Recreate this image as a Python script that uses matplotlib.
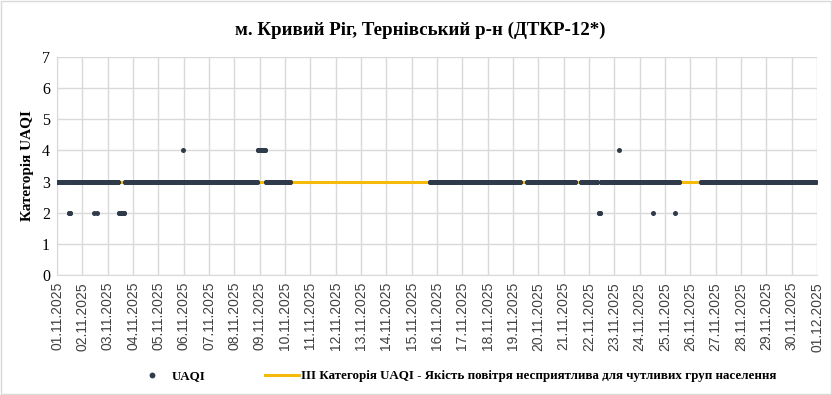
import numpy as np
import pandas as pd
import matplotlib
matplotlib.use('Agg')
import matplotlib.pyplot as plt
from matplotlib.lines import Line2D
from matplotlib.patches import Rectangle

# hourly UAQI category, 01.11.2025 00:00 .. 30.11.2025 23:00
start = '2025-11-01 00:00'
n_hours = 720
base_value = 3
hours_cat2 = [11, 12, 35, 38, 59, 60, 61, 62, 63, 513, 514, 565, 585]
hours_cat4 = [119, 190, 191, 192, 193, 194, 195, 196, 197, 532]
missing_runs = [(222, 352), (440, 444), (492, 495), (590, 609)]

ref_level = 3
date_labels = ['%02d.11.2025' % d for d in range(1, 31)] + ['01.12.2025']

times = pd.date_range(start, periods=n_hours, freq='h')
uaqi = np.full(n_hours, float(base_value))
uaqi[hours_cat2] = 2
uaqi[hours_cat4] = 4
for a, b in missing_runs:
    uaqi[a:b + 1] = np.nan

serif = 'Liberation Serif'
dot_color = '#2F3A4A'
gold = '#F5BA0A'

fig = plt.figure(figsize=(8.32, 3.95), dpi=100)
ax = fig.add_axes([57 / 832, 1 - 275 / 395, 760 / 832, 218 / 395])

ax.plot([times[0], pd.Timestamp('2025-12-01')], [ref_level, ref_level],
        color=gold, lw=2.2, zorder=2)
# dense hourly dots merge into a band, so draw each category as round-capped runs
for cat in (2, 3, 4):
    y = np.where(uaqi == cat, uaqi, np.nan)
    ax.plot(times, y, '-o', color=dot_color, lw=3.6, ms=3.6, mew=0,
            solid_capstyle='round', zorder=3)

ax.set_ylim(0, 7)
ax.set_yticks(range(0, 8))
ax.set_xlim(pd.Timestamp('2025-11-01'), pd.Timestamp('2025-12-01'))
ticks = pd.date_range('2025-11-01', '2025-12-01', freq='D')
ax.set_xticks(ticks)
ax.set_xticklabels(date_labels, rotation=90, fontsize=10, family='Liberation Sans',
                   color='#404040')
for lb in ax.get_yticklabels():
    lb.set_family(serif)
    lb.set_fontsize(11.5)
ax.tick_params(length=0, pad=5)
ax.grid(True, color='#D9D9D9', lw=1)
ax.set_axisbelow(True)
for s in ['top', 'right']:
    ax.spines[s].set_visible(False)
for s in ['left', 'bottom']:
    ax.spines[s].set_color('#D9D9D9')

ax.set_ylabel('Категорія UAQI', family=serif, fontsize=11, fontweight='bold', labelpad=6)
fig.text(0.505, 1 - 30 / 395, 'м. Кривий Ріг, Тернівський р-н (ДТКР-12*)',
         ha='center', va='center', family=serif, fontsize=13.6, fontweight='bold')

handles = [Line2D([], [], ls='none', marker='o', color=dot_color, ms=4.2, mew=0),
           Line2D([], [], color=gold, lw=2.2)]
labels = ['UAQI', 'ІІІ Категорія UAQI - Якість повітря несприятлива для чутливих груп населення']
fig.legend(handles, labels, loc='center', bbox_to_anchor=(0.548, 1 - 376 / 395), ncol=2,
           frameon=False, prop={'family': serif, 'size': 9.4, 'weight': 'bold'},
           handlelength=2.6, columnspacing=4.6, handletextpad=0.15)

fig.patches.append(Rectangle((0.001, 0.002), 0.998, 0.996, transform=fig.transFigure,
                             fill=False, ec='#D9D9D9', lw=1))

fig.savefig('out.png', dpi=100)
